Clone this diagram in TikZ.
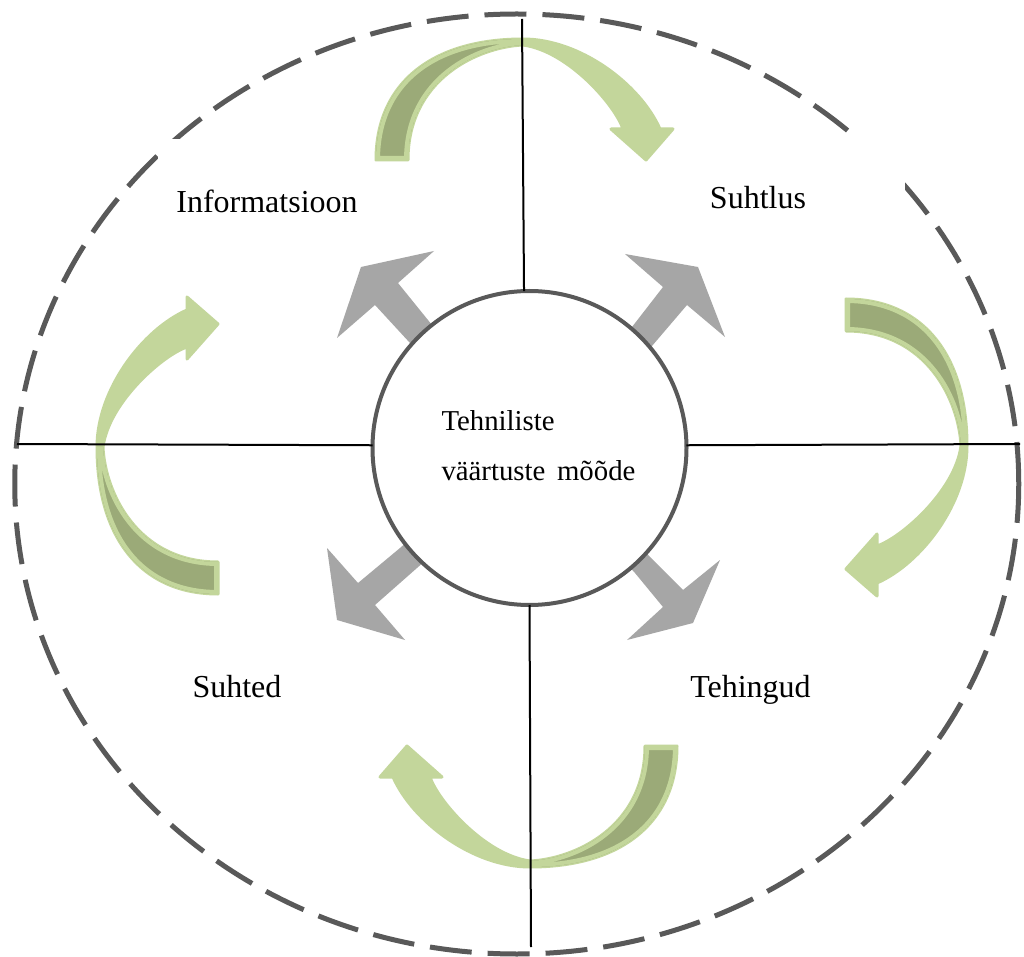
\documentclass[tikz,border=0pt]{standalone}
\usepackage{fontspec}
\setmainfont{Liberation Serif}
\definecolor{lgreen}{HTML}{C3D69B}
\definecolor{dgreen}{HTML}{9BAA78}
\definecolor{garrow}{HTML}{A6A6A6}
\definecolor{dgray}{HTML}{595959}
\tikzset{
  greenbody/.style={fill=lgreen, draw=lgreen, line width=1.5pt, line join=round},
  backface/.style={fill=dgreen, draw=lgreen, line width=4pt, line join=round},
  greyarrow/.style={fill=garrow, draw=none},
  axisline/.style={draw=black, line width=1pt},
  lbl/.style={font=\fontsize{16pt}{19pt}\selectfont, inner sep=0pt, outer sep=0pt},
  ctext/.style={font=\fontsize{14.4pt}{17pt}\selectfont, inner sep=0pt, outer sep=0pt, anchor=base west},
  centerring/.style={circle, draw=dgray, line width=2pt, fill=white, minimum size=157pt, inner sep=0pt, outer sep=0pt},
  dashring/.style={draw=dgray, line width=2.5pt, dash pattern=on 21pt off 8pt},
}
\newcommand{\backpath}{(-147,121) .. controls (-147,45) and (-92,0) .. (0,0) -- (0,6) .. controls (-45,8) and (-115,40) .. (-115,121) -- cycle}
\newcommand{\greenarrow}[3]{%
  \begin{scope}[shift={(#1,#2)}, rotate=#3]
    \path[greenbody] (-147,121) .. controls (-147,45) and (-92,0) .. (0,0)
      .. controls (57,0) and (117,45) .. (137,90) -- (150,90) -- (123,121) -- (88,90) -- (100,90)
      .. controls (92,66) and (45,12) .. (0,6) .. controls (-45,8) and (-115,40) .. (-115,121) -- cycle;
    \begin{scope}
      \clip \backpath;
      \path[backface] \backpath;
    \end{scope}
  \end{scope}}
\begin{document}
\begin{tikzpicture}[x=0.5pt, y=-0.5pt]
\useasboundingbox (0,0) rectangle (1024,957);
\fill[white] (0,0) rectangle (1024,957);
% dashed outer ellipse
\draw[dashring] (516.75,484) ellipse [x radius=251pt, y radius=235pt];
% labels (text boxes with white fill)
\node[lbl, fill=white, minimum width=109pt, minimum height=62pt] (info) at (267,201) {Informatsioon};
\node[lbl, fill=white, minimum width=147pt, minimum height=61pt] (suhtlus) at (758,198) {Suhtlus};
\node[lbl, anchor=base] (suhted) at (237,697) {Suhted};
\node[lbl, anchor=base] (tehingud) at (750.5,697) {Tehingud};
% green curved arrows
\greenarrow{523}{39}{0}
\greenarrow{967}{446}{-90}
\greenarrow{530}{867}{180}
\greenarrow{97}{447}{90}
% grey arrows
\fill[greyarrow] (442,336) -- (432,325) -- (398,283) -- (434,251) -- (361,267) -- (337,338) -- (375,305) -- (410,343) -- (420,354) -- cycle;
\fill[greyarrow] (622.5,338.7) -- (632,327) -- (663,287) -- (625,254) -- (698,267) -- (725,337) -- (687,305) -- (652,346) -- (642.5,357.7) -- cycle;
\fill[greyarrow] (411.5,538) -- (400,548) -- (358,583) -- (327,548) -- (337,620) -- (405,640) -- (375,605) -- (417,568) -- (428.5,558) -- cycle;
\fill[greyarrow] (640,546) -- (650,557) -- (683,590) -- (720,560) -- (693,623) -- (627,640) -- (663,607) -- (635,573) -- (625,562) -- cycle;
% central circle
\node[centerring] (c) at (529.5,448) {};
% axis lines
\coordinate (vt) at (522,19);
\coordinate (vb) at (531,947);
\coordinate (hl) at (17,444);
\coordinate (hr) at (1020,444);
\draw[axisline] (vt) -- (c.92);
\draw[axisline] (c.south) -- (vb);
\draw[axisline] (hl) -- (c.179);
\draw[axisline] (c.1) -- (hr);
% center text
\node[ctext] (ct1) at (441.5,430.7) {Tehniliste};
\node[ctext] (ct2) at (441.5,480.7) {väärtuste\hspace{5.8pt}mõõde};
\end{tikzpicture}
\end{document}
